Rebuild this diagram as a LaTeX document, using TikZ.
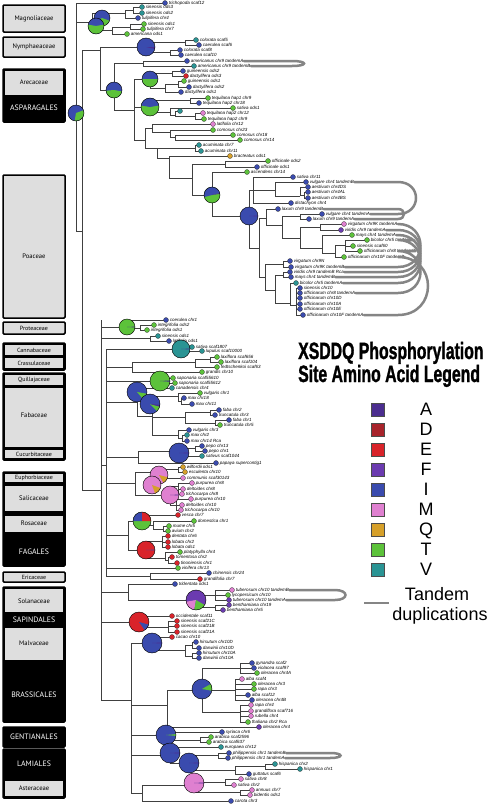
\documentclass[tikz,border=0pt]{standalone}
\usepackage{fontspec}
\setmainfont{Liberation Sans}
\newfontfamily\famfont{PT Sans}
\newfontfamily\titlefont[BoldFeatures={FakeBold=1.6}]{Liberation Sans}
\usetikzlibrary{calc}
\definecolor{cA}{HTML}{4B2D8F}
\definecolor{cD}{HTML}{A8232B}
\definecolor{cE}{HTML}{D9232A}
\definecolor{cF}{HTML}{6B3BB0}
\definecolor{cI}{HTML}{3A4BAE}
\definecolor{cM}{HTML}{DF80D0}
\definecolor{cQ}{HTML}{D6A02A}
\definecolor{cT}{HTML}{5CC23A}
\definecolor{cV}{HTML}{2A9494}
\definecolor{famgray}{HTML}{DEDEDE}
\definecolor{tgray}{HTML}{858585}
\definecolor{brc}{HTML}{404040}
\tikzset{
  br/.style={draw=brc, line width=0.55pt},
  leafdot/.style={circle, inner sep=0pt, minimum size=5pt, draw=black!75, line width=0.3pt},
  leaflbl/.style={font=\fontsize{4.5}{4.5}\selectfont\itshape, inner sep=0.3pt, anchor=west},
  pieo/.style={draw=black, line width=0.45pt},
  tandem/.style={draw=tgray, line width=2.5pt, line cap=round},
  fambox/.style={draw=black, line width=1.5pt, fill=famgray, rounded corners=1pt},
  ordbox/.style={draw=black, line width=1.5pt, fill=black, rounded corners=1pt},
  innerbox/.style={draw=black, line width=0.6pt, fill=famgray},
  famtxt/.style={font=\famfont\fontsize{6.6}{7}\selectfont, inner sep=0pt},
  famsmall/.style={font=\famfont\fontsize{6}{6}\selectfont, inner sep=0pt},
  ordtxt/.style={font=\famfont\fontsize{7.8}{8}\selectfont, text=white, inner sep=0pt},
  sq/.style={draw=black!70, line width=0.4pt, minimum size=13pt, inner sep=0pt},
  lgl/.style={font=\fontsize{18}{18}\selectfont, anchor=base, inner sep=0pt},
  ttl/.style={anchor=base west, inner sep=0pt, font=\titlefont\bfseries\fontsize{23.6}{24}\selectfont}
}
\newcommand{\lf}[6]{%
  \draw[br] (#6,#3) -- (#2,#3);
  \node[leafdot, fill=#4] (#1) at (#2,#3) {};
  \node[leaflbl] (#1l) at ([xshift=0.6pt]#1.east) {#5};
}
\newcommand{\vl}[3]{\draw[br] (#1,#2) -- (#1,#3);}
\newcommand{\hl}[3]{\draw[br] (#2,#1) -- (#3,#1);}
\newcommand{\pieb}[5]{%
  \fill[#4] (#1,#2) circle (#3);
  \foreach \cc/\aa/\bb in {#5} {\fill[\cc] (#1,#2) -- ++(\aa:#3) arc (\aa:\bb:#3) -- cycle;}
  \draw[pieo] (#1,#2) circle (#3);
}
\newcommand{\tand}[4]{%
  \coordinate (tx) at (#3,0);
  \draw[tandem] (#1.east) -- (#1.east -| tx) .. controls +(#4,0) and +(#4,0) .. (#2.east -| tx) -- (#2.east);
}
\begin{document}
\begin{tikzpicture}[x=1pt,y=-1pt]
\fill[white] (0,0) rectangle (491,804);
\useasboundingbox (0,0) rectangle (491,804);

% ---------- family column ----------
\draw[fambox] (3,5) rectangle (65,32); \node[famtxt] (fMag) at (34,18.5) {Magnoliaceae};
\draw[fambox] (3,37) rectangle (65,57); \node[famtxt] (fNym) at (34,47) {Nymphaeaceae};
\draw[ordbox] (3,69) rectangle (65,122);
\draw[innerbox] (4.5,70.5) rectangle (63.5,95); \node[famtxt] (fAre) at (34,82.5) {Arecaceae};
\node[ordtxt] (fAsp) at (34,108) {ASPARAGALES};
\draw[fambox] (3,175) rectangle (65,318); \node[famtxt] (fPoa) at (34,256) {Poaceae};
\draw[fambox] (3,322) rectangle (65,334); \node[famsmall] (fPro) at (34,328.5) {Proteaceae};
\draw[ordbox] (3,343) rectangle (65,370);
\draw[innerbox] (4.5,344.5) rectangle (63.5,355.5); \node[famsmall] (fCan) at (34,350) {Cannabaceae};
\draw[innerbox] (4.5,357.5) rectangle (63.5,368.5); \node[famsmall] (fCra) at (34,363) {Crassulaceae};
\draw[ordbox] (3,373) rectangle (65,460);
\draw[innerbox] (4.5,374.5) rectangle (63.5,385.5); \node[famsmall] (fQui) at (34,380) {Quillajaceae};
\draw[innerbox] (4.5,387.5) rectangle (63.5,447.5); \node[famtxt] (fFab) at (34,415) {Fabaceae};
\draw[innerbox] (4.5,449.5) rectangle (63.5,458.5); \node[famsmall] (fCuc) at (34,454) {Cucurbitaceae};
\draw[ordbox] (3,472) rectangle (65,566);
\draw[innerbox] (4.5,473.5) rectangle (63.5,482); \node[famsmall] (fEup) at (34,478) {Euphorbiaceae};
\draw[innerbox] (4.5,485) rectangle (63.5,511); \node[famtxt] (fSal) at (34,498) {Salicaceae};
\draw[innerbox] (4.5,515) rectangle (63.5,532); \node[famtxt] (fRos) at (34,523.5) {Rosaceae};
\node[ordtxt] (fFag) at (34,552) {FAGALES};
\draw[fambox] (3,572) rectangle (65,582); \node[famsmall] (fEri) at (34,577) {Ericaceae};
\draw[ordbox] (3,587) rectangle (65,722);
\draw[innerbox] (4.5,588.5) rectangle (63.5,612); \node[famtxt] (fSol) at (34,601) {Solanaceae};
\node[ordtxt] (fSap) at (34,619.5) {SAPINDALES};
\draw[innerbox] (4.5,627) rectangle (63.5,660); \node[famtxt] (fMal) at (34,643) {Malvaceae};
\node[ordtxt] (fBra) at (34,695) {BRASSICALES};
\draw[ordbox] (3,727) rectangle (65,747); \node[ordtxt] (fGen) at (34,737) {GENTIANALES};
\draw[ordbox] (3,749) rectangle (65,798); \node[ordtxt] (fLam) at (34,764) {LAMIALES};
\draw[innerbox] (4.5,780) rectangle (63.5,796.5); \node[famtxt] (fAst) at (34,788) {Asteraceae};

% ---------- backbone ----------
\vl{76}{3}{231} \hl{231}{76}{82} \vl{82}{50}{490}
\hl{22}{76}{92} \vl{92}{13}{30}
\hl{13}{92}{125} \vl{125}{10}{18} \hl{10}{125}{133} \vl{133}{7}{13}
\hl{30}{92}{112} \vl{112}{27}{34} \hl{27}{112}{130} \vl{130}{24}{29}
\hl{50}{82}{100} \vl{100}{47}{90}
\hl{47}{100}{146} \vl{146}{42}{52} \hl{42}{146}{185} \vl{185}{40}{45} \hl{52}{146}{170} \vl{170}{50}{55}
% monocots
\hl{90}{100}{114} \vl{114}{63}{110} \hl{63}{114}{143} \vl{143}{61}{66}
\hl{110}{114}{134} \vl{134}{79}{140}
\hl{79}{134}{150} \vl{150}{73}{88} \hl{73}{150}{172} \vl{172}{71}{76}
\hl{88}{150}{165} \vl{165}{84}{92} \hl{84}{165}{178} \vl{178}{81}{87}
\hl{107}{134}{152} \vl{152}{100}{112} \hl{100}{152}{190} \vl{190}{98}{103}
\hl{112}{152}{170} \vl{170}{108}{115} \hl{115}{170}{175} \vl{175}{111}{116}
\hl{116}{175}{195} \vl{195}{113}{119}
\hl{140}{134}{145} \vl{145}{128}{148}
\hl{128}{145}{152} \vl{152}{124}{132} \hl{132}{152}{170} \vl{170}{130}{137}
\hl{137}{170}{175} \vl{175}{135}{140}
\hl{148}{145}{195} \vl{157}{148}{158} \vl{195}{145}{151}
\hl{158}{157}{169} \vl{169}{156}{178}
\hl{178}{169}{192} \vl{192}{164}{195}
\hl{164}{192}{225} \vl{225}{161}{167}
\hl{195}{192}{212} \vl{212}{172}{216}
\hl{216}{212}{249} \vl{249}{190}{248}
\hl{190}{249}{275} \vl{253}{177}{203} \vl{275}{182}{196}
\hl{196}{275}{300} \vl{300}{187}{195} \hl{195}{300}{304} \vl{304}{192}{198}
\hl{248}{249}{259} \vl{259}{218}{277}
\hl{218}{259}{266} \vl{266}{209}{225}
\hl{225}{266}{282} \vl{282}{216}{238}
\hl{216}{282}{300} \vl{300}{214}{219}
\hl{238}{282}{300} \vl{300}{227}{248}
\hl{227}{300}{320} \vl{320}{224}{230}
\hl{248}{300}{322} \vl{322}{235}{253}
\hl{253}{322}{335} \vl{335}{245}{257}
\hl{245}{335}{345} \vl{345}{240}{251}
\hl{277}{259}{265} \vl{265}{264}{290}
\hl{264}{265}{283} \vl{283}{261}{267}
\hl{290}{265}{275} \vl{275}{275}{303}
\hl{275}{275}{283} \vl{283}{272}{277}
\hl{303}{275}{290} \vl{290}{283}{305}
\hl{305}{290}{296} \vl{296}{288}{315}
% eudicots
\hl{490}{82}{101} \vl{101}{320}{700}
\hl{327}{101}{127} \vl{127}{320}{328} \hl{328}{127}{140} \vl{140}{325}{330}
\hl{338}{101}{150} \vl{150}{336}{341}
\hl{465}{101}{106} \vl{106}{349}{576}
\hl{349}{106}{181} \vl{181}{347}{351}
\hl{367}{106}{132} \vl{132}{362}{372} \hl{362}{132}{195} \vl{195}{359}{367}
\hl{359}{195}{210} \vl{210}{357}{362}
\hl{381}{106}{160} \vl{160}{378}{383}
\hl{402}{106}{137} \vl{137}{388}{416}
\hl{416}{137}{152} \vl{152}{396}{435}
\hl{396}{152}{178} \vl{178}{393}{401} \hl{401}{178}{181} \vl{181}{398}{404}
\hl{417}{152}{185} \vl{185}{412}{423}
\hl{412}{185}{210} \vl{210}{410}{415}
\hl{423}{185}{215} \vl{215}{420}{425}
\hl{435}{152}{178} \vl{178}{430}{438} \hl{438}{178}{182} \vl{182}{435}{441}
\hl{457}{106}{138} \vl{138}{451}{463}
\hl{451}{138}{179} \vl{179}{448}{456} \hl{448}{179}{195} \vl{195}{446}{451}
\hl{483}{106}{135} \vl{135}{472}{495}
\hl{472}{135}{159} \vl{159}{469}{478} \hl{469}{159}{178} \vl{178}{467}{472}
\hl{495}{135}{170} \vl{170}{486}{505}
\hl{486}{170}{178} \vl{178}{483}{494}
\hl{505}{170}{176} \vl{176}{499}{510}
\hl{535}{106}{128} \vl{128}{521}{550}
\hl{521}{128}{142} \vl{142}{515}{525}
\hl{525}{142}{153} \vl{153}{521}{529}
\hl{529}{153}{163} \vl{163}{526}{531}
\hl{550}{128}{146} \vl{146}{541}{558}
\hl{541}{146}{162} \vl{162}{536}{547}
\hl{558}{146}{165} \vl{165}{552}{560}
\hl{560}{165}{168} \vl{168}{557}{563}
\hl{576}{106}{150} \vl{150}{573}{579}
\hl{592}{101}{128} \vl{128}{584}{600}
\hl{600}{128}{196} \vl{196}{595}{607}
\hl{595}{196}{215} \vl{215}{590}{600}
\hl{607}{196}{215} \vl{215}{605}{610}
\hl{622}{101}{139} \vl{139}{616}{627}
\hl{627}{139}{168} \vl{168}{621}{632}
\hl{700}{101}{131} \vl{131}{643}{793}
\hl{643}{131}{152} \vl{152}{637}{650}
\hl{650}{152}{185} \vl{185}{645}{656}
\hl{645}{185}{192} \vl{192}{642}{648}
\hl{656}{185}{192} \vl{192}{653}{658}
\hl{705}{131}{167} \vl{167}{690}{727}
\hl{690}{167}{202} \vl{202}{668}{712}
\hl{668}{202}{240} \vl{240}{663}{673}
\hl{690}{202}{235} \vl{235}{679}{700}
\hl{712}{202}{240} \vl{240}{705}{722}
\hl{735}{131}{166} \vl{166}{732}{740}
\hl{740}{166}{200} \vl{200}{737}{742}
\hl{755}{131}{170} \vl{170}{747}{763}
\hl{763}{170}{189} \vl{189}{755}{770}
\hl{755}{189}{218} \vl{218}{753}{758}
\hl{770}{189}{235} \vl{235}{766}{774}
\hl{766}{235}{265} \vl{265}{764}{769}
\hl{793}{131}{142} \vl{142}{785}{801}
\hl{785}{142}{194} \vl{194}{782}{792}
\hl{782}{194}{225} \vl{225}{779}{785}
\hl{792}{194}{240} \vl{240}{790}{795}

% ---------- leaves ----------
\lf{l1}{165}{3}{cI}{trichopoda scaf12}{76}
\lf{l2}{142}{7}{cV}{sinensis ods3}{133}
\lf{l3}{142}{13}{cV}{sinensis ods2}{133}
\lf{l4}{138}{18}{cI}{tulipifera chr4}{125}
\lf{l5}{144}{24}{cT}{sinensis ods1}{130}
\lf{l6}{143}{29}{cT}{tulipifera chr7}{130}
\lf{l7}{127}{34}{cT}{americana ods1}{112}
\lf{l8}{196}{40}{cV}{colorata scaf5}{185}
\lf{l9}{199}{45}{cI}{caerulea scaf6}{185}
\lf{l10}{180}{50}{cI}{colorata scaf8}{170}
\lf{l11}{181}{55}{cI}{caerulea scaf10}{170}
\lf{l12}{187}{61}{cI}{americanus chr9 tandemA}{143}
\lf{l13}{194}{66}{cV}{americanus chr9 tandemB}{143}
\lf{l14}{183}{71}{cI}{guineensis ods2}{172}
\lf{l15}{186}{76}{cE}{dactylifera ods3}{172}
\lf{l16}{184}{81}{cT}{guineensis ods1}{178}
\lf{l17}{189}{87}{cI}{dactylifera ods2}{178}
\lf{l18}{181}{92}{cI}{dactylifera ods1}{165}
\lf{l19}{208}{98}{cT}{tequilana hap1 chr9}{190}
\lf{l20}{199}{103}{cI}{tequilana hap2 chr18}{190}
\lf{l21}{233}{108}{cT}{sativa ods1}{170}
\lf{l22}{180}{111}{cV}{}{175}
\lf{l23}{203}{113}{cM}{tequilana hap2 chr12}{195}
\lf{l24}{204}{119}{cT}{tequilana hap2 chr9}{195}
\lf{l25}{213}{124}{cM}{latifolia chr12}{152}
\lf{l26}{213}{130}{cT}{comosus chr23}{170}
\lf{l27}{233}{135}{cT}{comosus chr18}{175}
\lf{l28}{240}{140}{cT}{comosus chr14}{175}
\lf{l29}{199}{145}{cV}{acuminata chr7}{195}
\lf{l30}{201}{151}{cV}{acuminata chr11}{195}
\lf{l31}{230}{156}{cQ}{bracteatus ods1}{169}
\lf{l32}{268}{161}{cT}{officinale ods2}{225}
\lf{l33}{257}{167}{cI}{officinale ods1}{225}
\lf{l34}{247}{172}{cT}{ascendens chr14}{212}
\lf{l35}{293}{177}{cI}{sativa chr11}{253}
\lf{l36}{306}{182}{cI}{vulgare chr4 tandemB}{275}
\lf{l37}{308}{187}{cI}{aestivum chr4DS}{300}
\lf{l38}{308}{192}{cI}{aestivum chr4AL}{304}
\lf{l39}{308}{198}{cI}{aestivum chr4BS}{304}
\lf{l40}{291}{203}{cI}{distachyon chr4}{253}
\lf{l41}{278}{209}{cI}{laxum chr9 tandemB}{266}
\lf{l42}{322}{214}{cI}{vulgare chr4 tandemA}{300}
\lf{l43}{309}{219}{cI}{laxum chr9 tandemA}{300}
\lf{l44}{344}{224}{cM}{virgatum chr9K tandemA}{320}
\lf{l45}{341}{230}{cF}{viridis chr9 tandemA}{320}
\lf{l46}{352}{235}{cT}{mays chr4 tandemA}{322}
\lf{l47}{367}{240}{cT}{bicolor chr5 tandemB}{345}
\lf{l48}{353}{246}{cT}{sinensis scaf60}{345}
\lf{l49}{360}{251}{cT}{officinarum chr8 tandemB}{345}
\lf{l50}{344}{257}{cT}{officinarum chr10F tandemB}{335}
\lf{l51}{290}{261}{cI}{virgatum chr9N}{283}
\lf{l52}{291}{267}{cI}{virgatum chr9K tandemB}{283}
\lf{l53}{290}{272}{cI}{viridis chr9 tandemB Rca}{283}
\lf{l54}{291}{277}{cI}{mays chr4 tandemB}{283}
\lf{l55}{296}{283}{cV}{bicolor chr5 tandemA}{290}
\lf{p1}{300}{288}{cI}{sinensis chr10}{296}
\lf{p2}{300}{293}{cI}{officinarum chr8 tandemA}{296}
\lf{p3}{300}{298}{cI}{officinarum chr10D}{296}
\lf{p4}{300}{304}{cI}{officinarum chr10A}{296}
\lf{p5}{300}{309}{cI}{officinarum chr10E}{296}
\lf{p6}{303}{315}{cI}{officinarum chr10F tandemA}{296}

\lf{e1}{166}{320}{cI}{coerulea chr1}{127}
\lf{e2}{154}{325}{cT}{integrifolia ods2}{140}
\lf{e3}{147}{330}{cT}{integrifolia ods1}{140}
\lf{e4}{158}{336}{cV}{sinensis ods1}{150}
\lf{e5}{169}{341}{cI}{latifolia ods1}{150}
\lf{e6}{192}{347}{cV}{sativa scaf1807}{181}
\lf{e7}{202}{351}{cV}{lupulus scaf10000}{181}
\lf{e8}{217}{357}{cT}{laxiflora scaf656}{210}
\lf{e9}{221}{362}{cT}{laxiflora scaf104}{210}
\lf{e10}{217}{367}{cT}{fedtschenkoi scaf63}{195}
\lf{e11}{202}{372}{cT}{grandis chr10}{132}
\lf{e12}{173}{378}{cT}{saponaria scaf55610}{160}
\lf{e13}{175}{383}{cT}{saponaria scaf55612}{160}
\lf{e14}{172}{388}{cV}{canadensis chr4}{137}
\lf{e15}{200}{393}{cT}{vulgaris chr1}{178}
\lf{e16}{184}{398}{cI}{max chr18}{181}
\lf{e17}{192}{404}{cI}{max chr11}{181}
\lf{e18}{219}{410}{cI}{faba chr2}{210}
\lf{e19}{215}{415}{cI}{truncatula chr3}{210}
\lf{e20}{229}{420}{cI}{faba chr1}{215}
\lf{e21}{220}{425}{cT}{truncatula chr5}{215}
\lf{e22}{189}{430}{cI}{vulgaris chr3}{178}
\lf{e23}{187}{435}{cV}{max chr2}{182}
\lf{e24}{187}{441}{cI}{max chr14 Rca}{182}
\lf{e25}{202}{446}{cI}{pepo chr13}{195}
\lf{e26}{205}{451}{cI}{pepo chr1}{195}
\lf{e27}{202}{456}{cV}{sativus scaf1044}{179}
\lf{e28}{216}{463}{cI}{papaya supercontig1}{138}
\lf{e29}{183}{467}{cQ}{wilfordii ods1}{178}
\lf{e30}{185}{472}{cQ}{esculenta chr10}{178}
\lf{e31}{183}{478}{cM}{communis scaf30143}{159}
\lf{e32}{192}{483}{cM}{purpurea chr8}{178}
\lf{e33}{183}{489}{cM}{deltoides chr8}{178}
\lf{e34}{182}{494}{cM}{trichocarpa chr8}{178}
\lf{e35}{191}{499}{cM}{purpurea chr10}{176}
\lf{e36}{182}{505}{cM}{deltoides chr10}{176}
\lf{e37}{181}{510}{cM}{trichocarpa chr10}{176}
\lf{e38}{178}{515}{cE}{vesca chr7}{142}
\lf{e39}{194}{521}{cT}{domestica chr1}{153}
\lf{e40}{169}{526}{cT}{mume chr5}{163}
\lf{e41}{168}{531}{cT}{avium chr2}{163}
\lf{e42}{168}{536}{cE}{dentata chr6}{162}
\lf{e43}{168}{542}{cE}{lobata chr2}{162}
\lf{e44}{168}{547}{cE}{lobata ods1}{162}
\lf{e45}{180}{552}{cT}{platyphylla chr4}{165}
\lf{e46}{172}{557}{cE}{tomentosa chr2}{168}
\lf{e47}{177}{563}{cE}{tinoniensis chr1}{168}
\lf{e48}{178}{568}{cT}{vinifera chr13}{106}
\lf{e49}{209}{573}{cI}{chinensis chr24}{150}
\lf{e50}{200}{579}{cE}{grandifolia chr7}{150}
\lf{e51}{175}{584}{cI}{tridentata ods1}{128}
\lf{e52}{232}{590}{cM}{tuberosum chr10 tandemB}{215}
\lf{e53}{228}{595}{cT}{lycopersicum chr10}{215}
\lf{e54}{229}{600}{cF}{tuberosum chr10 tandemA}{215}
\lf{e55}{229}{605}{cF}{benthamiana chr19}{215}
\lf{e56}{223}{610}{cF}{benthamiana chr5}{215}
\lf{e57}{172}{616}{cE}{occidentale scaf11}{139}
\lf{e58}{177}{621}{cE}{sinensis scaf21C}{168}
\lf{e59}{177}{626}{cE}{sinensis scaf21B}{168}
\lf{e60}{177}{632}{cE}{sinensis scaf21A}{168}
\lf{e61}{172}{637}{cE}{cacao chr10}{152}
\lf{e62}{196}{642}{cI}{hirsutum chr10D}{192}
\lf{e63}{199}{648}{cI}{darwinii chr10D}{192}
\lf{e64}{199}{653}{cI}{hirsutum chr10A}{192}
\lf{e65}{199}{658}{cI}{darwinii chr10A}{192}
\lf{e66}{252}{663}{cI}{gynandra scaf2}{240}
\lf{e67}{254}{668}{cI}{violacea scaf97}{240}
\lf{e68}{257}{673}{cT}{oleracea chr4A}{240}
\lf{e69}{242}{679}{cM}{alba scaf4}{235}
\lf{e70}{254}{684}{cT}{oleracea chr3}{235}
\lf{e71}{254}{689}{cT}{rapa chr3}{235}
\lf{e72}{248}{695}{cI}{alba scaf12}{235}
\lf{e73}{252}{700}{cI}{oleracea chr4B}{235}
\lf{e74}{251}{705}{cM}{rapa chr4}{240}
\lf{e75}{251}{711}{cM}{grandiflora scaf716}{240}
\lf{e76}{251}{716}{cM}{rubella chr4}{240}
\lf{e77}{248}{722}{cT}{thaliana chr2 Rca}{240}
\lf{e78}{259}{727}{cF}{oleracea chr4}{167}
\lf{e79}{222}{732}{cI}{syriaca chr6}{166}
\lf{e80}{211}{737}{cT}{arabica scaf2596}{200}
\lf{e81}{209}{742}{cT}{arabica scaf637}{200}
\lf{e82}{221}{747}{cV}{europaea chr12}{170}
\lf{e83}{229}{753}{cI}{philippensis chr1 tandemB}{218}
\lf{e84}{228}{758}{cI}{philippensis chr1 tandemA}{218}
\lf{e85}{275}{764}{cV}{hispanica chr2}{265}
\lf{e86}{300}{769}{cV}{hispanica chr1}{265}
\lf{e87}{249}{774}{cI}{guttatus scaf6}{235}
\lf{e88}{241}{779}{cM}{sativa chr8}{225}
\lf{e89}{234}{785}{cM}{sativa chr2}{225}
\lf{e90}{252}{790}{cM}{annuus chr7}{240}
\lf{e91}{250}{795}{cM}{bidentis ods1}{240}
\lf{e92}{231}{801}{cI}{carota chr3}{142}

% ---------- pies ----------
\pieb{102}{18}{8}{cI}{cT/20/150}
\pieb{96}{26}{8}{cI}{cT/-10/190}
\pieb{76}{113}{8}{cI}{cT/-20/100}
\pieb{146}{47}{9}{cI}{cA/0/12}
\pieb{114}{90}{8}{cI}{cT/10/175}
\pieb{150}{79}{8}{cI}{cT/0/180}
\pieb{150}{107}{9}{cT}{cI/190/350}
\pieb{212}{195}{8}{cT}{cI/165/345,cA/345/352}
\pieb{249}{216}{9}{cI}{cA/-3/3}
\pieb{127}{327}{8}{cT}{cA/-3/3}
\pieb{181}{349}{9}{cV}{cA/-3/3}
\pieb{160}{381}{10}{cT}{cA/-3/4}
\pieb{137}{392}{10}{cI}{cT/10/50}
\pieb{150}{404}{10}{cI}{cT/15/45,cA/5/15}
\pieb{179}{453}{10}{cI}{cA/-3/3}
\pieb{159}{475}{9}{cM}{cQ/15/60}
\pieb{152}{485}{9}{cM}{cQ/20/70}
\pieb{170}{495}{9}{cM}{cA/-3/3}
\pieb{142}{521}{9}{cT}{cI/180/270,cE/270/360}
\pieb{146}{550}{9}{cE}{cI/-3/3}
\pieb{196}{600}{10}{cF}{cM/100/170,cT/30/100}
\pieb{139}{622}{10}{cE}{cI/15/55}
\pieb{152}{643}{10}{cI}{cA/-3/3}
\pieb{202}{689}{10}{cI}{cT/330/370}
\pieb{166}{735}{10}{cI}{cT/-5/5}
\pieb{170}{753}{10}{cI}{cA/-3/3}
\pieb{189}{763}{10}{cI}{cA/-3/3}
\pieb{194}{783}{10}{cM}{cA/-3/3}

% ---------- tandem duplications ----------
\tand{l12l}{l13l}{292}{16}
\tand{l36l}{l42l}{398}{24}
\tand{l41l}{l43l}{398}{8}
\tand{l44l}{l52l}{398}{30}
\tand{l45l}{l53l}{398}{30}
\tand{l46l}{l54l}{398}{30}
\tand{l47l}{l55l}{398}{30}
\tand{l49l}{p2l}{398}{30}
\tand{l50l}{p6l}{398}{40}
\tand{e52l}{e54l}{335}{14}
\tand{e83l}{e84l}{330}{14}

% ---------- legend ----------
\node[ttl] (title1) at (298,359) {\scalebox{0.67}[1]{XSDDQ Phosphorylation}};
\node[ttl] (title2) at (298,382) {\scalebox{0.67}[1]{Site Amino Acid Legend}};
\foreach \cc/\ll [count=\i from 0] in {cA/A,cD/D,cE/E,cF/F,cI/I,cM/M,cQ/Q,cT/T,cV/V} {
  \node[sq, fill=\cc] (sq\ll) at (377.5,409.5+20*\i) {};
  \node[lgl] (lt\ll) at (426,415.5+20*\i) {\ll};
}
\coordinate (lgT1) at (364,603);
\coordinate (lgT2) at (389,603);
\draw[draw=tgray, line width=2.6pt] (lgT1) -- (lgT2);
\node[lgl] (tdA) at (437,600) {Tandem};
\node[lgl] (tdB) at (440,620) {duplications};
\end{tikzpicture}
\end{document}
